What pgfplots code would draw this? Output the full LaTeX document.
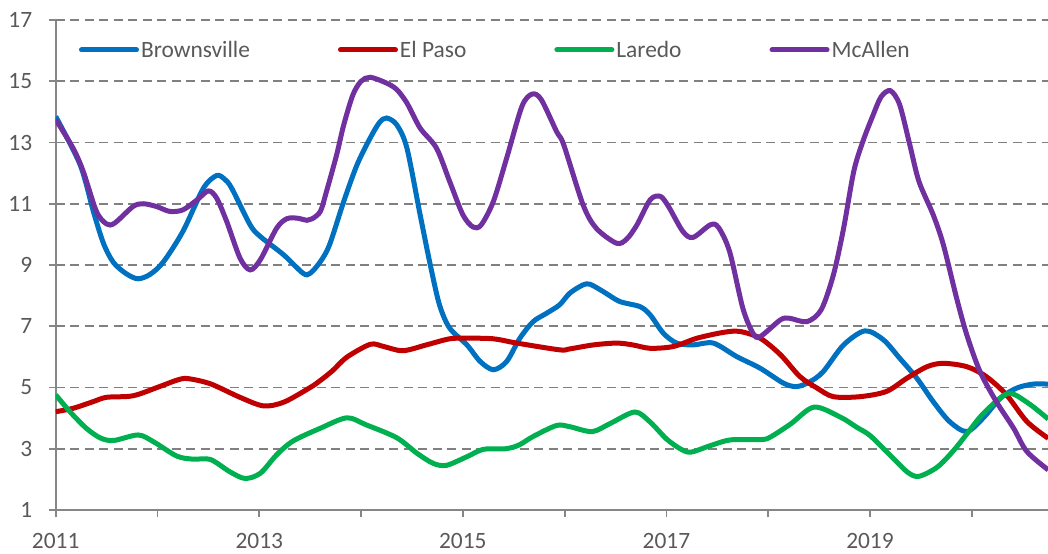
\documentclass[border=0pt]{standalone}
\usepackage{fontspec}
\setmainfont{Carlito}
\usepackage{pgfplots}
\pgfplotsset{compat=1.18}
\definecolor{cBlue}{HTML}{0070C0}
\definecolor{cRed}{HTML}{C00000}
\definecolor{cGreen}{HTML}{00B050}
\definecolor{cPurple}{HTML}{7030A0}
\definecolor{txt}{HTML}{595959}
\definecolor{axisgray}{HTML}{868686}
\definecolor{gridgray}{HTML}{808080}
\begin{document}
\begin{tikzpicture}
\begin{axis}[
  at={(55.7bp,44bp)}, anchor=south west,
  width=992.3bp, height=490bp, scale only axis,
  xmin=2011, xmax=2020.748, ymin=1, ymax=17,
  axis x line*=bottom, axis y line*=left,
  axis line style={axisgray, line width=1.8bp, -},
  xtick={2011,...,2020},
  xticklabels={2011,,2013,,2015,,2017,,2019,},
  ytick={1,3,...,17},
  tick align=outside, major tick length=7bp,
  tick style={axisgray, line width=1.8bp},
  ymajorgrids,
  grid style={gridgray, line width=1.8bp, dash pattern=on 9bp off 5.5bp},
  /pgf/number format/assume math mode=true,
  ticklabel style={font=\fontsize{23.5}{28}\selectfont, text=txt},
  xticklabel shift=13bp,
  yticklabel shift=13bp,
  legend columns=4,
  legend image code/.code={\draw[#1, line cap=round] (0bp,0bp) -- (55bp,0bp);},
  legend style={at={(0.0235,0.9388)}, anchor=west, draw=none, fill=none,
    inner sep=0pt, outer sep=0pt,
    font=\fontsize{23.5}{28}\selectfont, text=txt,
    nodes={inner sep=2bp},
    /tikz/every even column/.append style={column sep=86bp}},
  every axis plot/.append style={line width=5bp, smooth, no markers},
]
\addplot[cBlue] coordinates {
(2011.0,13.85)(2011.24,12.27)(2011.37,10.75)(2011.47,9.7)(2011.57,9.07)(2011.7,8.7)(2011.81,8.55)(2011.93,8.7)(2012.06,9.11)(2012.25,10.1)(2012.45,11.5)(2012.58,11.92)(2012.66,11.8)(2012.73,11.5)(2012.91,10.31)(2013.01,9.93)(2013.24,9.33)(2013.43,8.73)(2013.5,8.73)(2013.6,9.11)(2013.69,9.66)(2013.83,11.08)(2013.96,12.27)(2014.09,13.15)(2014.18,13.65)(2014.25,13.8)(2014.35,13.58)(2014.45,12.82)(2014.58,10.64)(2014.68,9.0)(2014.77,7.7)(2014.87,6.94)(2015.04,6.39)(2015.17,5.85)(2015.3,5.58)(2015.43,5.85)(2015.56,6.61)(2015.69,7.15)(2015.82,7.42)(2015.95,7.7)(2016.05,8.08)(2016.18,8.35)(2016.25,8.37)(2016.38,8.13)(2016.54,7.81)(2016.74,7.64)(2016.84,7.37)(2016.97,6.77)(2017.1,6.45)(2017.26,6.39)(2017.46,6.45)(2017.69,6.01)(2017.92,5.63)(2018.15,5.14)(2018.28,5.03)(2018.41,5.19)(2018.54,5.52)(2018.74,6.39)(2018.95,6.85)(2019.13,6.56)(2019.29,5.96)(2019.46,5.3)(2019.62,4.54)(2019.78,3.89)(2019.95,3.56)(2020.11,4.0)(2020.28,4.65)(2020.44,4.98)(2020.6,5.11)(2020.75,5.11)
};
\addlegendentry{Brownsville}
\addplot[cRed] coordinates {
(2011.0,4.21)(2011.17,4.32)(2011.37,4.54)(2011.5,4.68)(2011.76,4.73)(2012.02,5.03)(2012.2,5.25)(2012.3,5.29)(2012.52,5.12)(2012.81,4.68)(2013.04,4.4)(2013.24,4.52)(2013.5,5.0)(2013.6,5.23)(2013.72,5.55)(2013.86,5.99)(2014.09,6.41)(2014.22,6.34)(2014.41,6.2)(2014.64,6.39)(2014.87,6.59)(2015.04,6.61)(2015.3,6.59)(2015.53,6.45)(2015.95,6.23)(2016.05,6.26)(2016.28,6.39)(2016.51,6.45)(2016.67,6.39)(2016.84,6.28)(2017.07,6.34)(2017.3,6.61)(2017.56,6.8)(2017.72,6.83)(2017.92,6.61)(2018.12,6.07)(2018.31,5.36)(2018.48,4.98)(2018.64,4.7)(2018.9,4.7)(2019.16,4.87)(2019.36,5.3)(2019.56,5.68)(2019.72,5.79)(2019.95,5.68)(2020.14,5.36)(2020.34,4.76)(2020.54,3.89)(2020.75,3.34)
};
\addlegendentry{El Paso}
\addplot[cGreen] coordinates {
(2011.0,4.76)(2011.14,4.21)(2011.3,3.67)(2011.44,3.35)(2011.57,3.27)(2011.81,3.45)(2011.96,3.23)(2012.19,2.76)(2012.35,2.66)(2012.52,2.65)(2012.71,2.25)(2012.86,2.03)(2013.01,2.2)(2013.17,2.8)(2013.33,3.25)(2013.6,3.67)(2013.86,4.01)(2014.05,3.78)(2014.35,3.36)(2014.55,2.85)(2014.71,2.52)(2014.84,2.46)(2015.04,2.74)(2015.2,2.98)(2015.42,3.0)(2015.55,3.12)(2015.69,3.4)(2015.92,3.76)(2016.05,3.72)(2016.27,3.56)(2016.45,3.83)(2016.69,4.2)(2016.84,3.87)(2017.0,3.32)(2017.14,2.99)(2017.24,2.89)(2017.43,3.1)(2017.63,3.29)(2017.93,3.3)(2018.02,3.38)(2018.22,3.81)(2018.45,4.36)(2018.71,4.03)(2018.87,3.7)(2019.0,3.43)(2019.2,2.78)(2019.37,2.23)(2019.48,2.1)(2019.66,2.4)(2019.82,2.94)(2019.95,3.48)(2020.11,4.14)(2020.35,4.8)(2020.54,4.52)(2020.75,3.97)
};
\addlegendentry{Laredo}
\addplot[cPurple] coordinates {
(2011.0,13.75)(2011.17,12.82)(2011.27,12.06)(2011.4,10.75)(2011.5,10.34)(2011.58,10.37)(2011.76,10.91)(2011.86,11.0)(2011.99,10.91)(2012.12,10.75)(2012.25,10.8)(2012.39,11.13)(2012.5,11.42)(2012.58,11.19)(2012.68,10.42)(2012.81,9.23)(2012.91,8.84)(2013.01,9.17)(2013.17,10.2)(2013.27,10.51)(2013.37,10.53)(2013.47,10.46)(2013.52,10.51)(2013.6,10.75)(2013.66,11.4)(2013.76,12.6)(2013.83,13.58)(2013.92,14.56)(2014.0,15.0)(2014.09,15.13)(2014.25,14.94)(2014.35,14.73)(2014.45,14.29)(2014.58,13.47)(2014.74,12.82)(2014.87,11.73)(2015.0,10.64)(2015.1,10.24)(2015.18,10.31)(2015.3,11.08)(2015.43,12.49)(2015.58,14.18)(2015.68,14.58)(2015.77,14.4)(2015.92,13.36)(2015.99,12.93)(2016.18,10.97)(2016.31,10.2)(2016.51,9.71)(2016.61,9.85)(2016.71,10.31)(2016.84,11.13)(2016.94,11.24)(2017.02,10.91)(2017.16,10.1)(2017.26,9.9)(2017.43,10.31)(2017.51,10.23)(2017.62,9.44)(2017.75,7.59)(2017.85,6.77)(2017.92,6.66)(2018.12,7.21)(2018.21,7.26)(2018.38,7.15)(2018.52,7.54)(2018.64,8.68)(2018.74,10.2)(2018.84,12.06)(2018.93,13.04)(2019.03,13.9)(2019.11,14.5)(2019.2,14.69)(2019.29,14.24)(2019.39,12.93)(2019.48,11.73)(2019.62,10.64)(2019.72,9.66)(2019.85,7.92)(2019.95,6.72)(2020.08,5.52)(2020.24,4.54)(2020.41,3.67)(2020.54,2.91)(2020.75,2.31)
};
\addlegendentry{McAllen}
\end{axis}
\pgfresetboundingbox
\useasboundingbox (0,0) rectangle (1048bp,554bp);
\end{tikzpicture}
\end{document}
